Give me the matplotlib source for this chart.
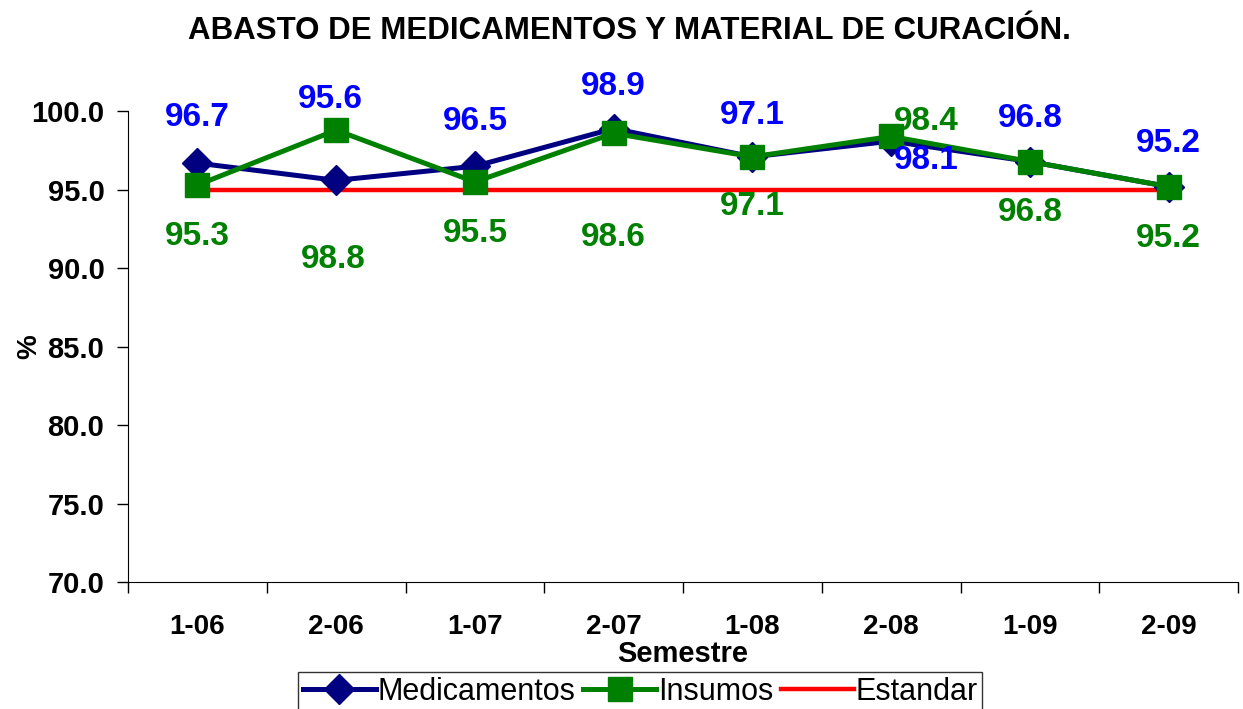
import matplotlib as mpl
mpl.use('Agg')
import matplotlib.pyplot as plt
from matplotlib.ticker import MultipleLocator, FixedLocator, FormatStrFormatter

plt.rcParams['font.family'] = ['Liberation Sans', 'DejaVu Sans']

semestres = ['1-06', '2-06', '1-07', '2-07', '1-08', '2-08', '1-09', '2-09']
medicamentos = [96.7, 95.6, 96.5, 98.9, 97.1, 98.1, 96.8, 95.2]
insumos = [95.3, 98.8, 95.5, 98.6, 97.1, 98.4, 96.8, 95.2]
estandar = [95.0, 95.0, 95.0, 95.0, 95.0, 95.0, 95.0, 95.0]
# etiquetas de los insumos como aparecen en la grafica original
etiq_insumos = [95.3, 98.8, 95.5, 98.6, 97.1, 98.4, 96.8, 95.2]

# desplazamiento de las etiquetas (en puntos): horizontal y vertical
dx_med = [0, -4, 0, 0, 0, 25, 0, 0]
dy_med = [33, 58, 32, 30, 30, -14, 31, 31]
dx_ins = [0, -2, 0, 0, 0, 25, 0, 0]
dy_ins = [-37, -93, -37, -75, -36, 11, -37, -37]

x = list(range(len(semestres)))

fig = plt.figure(figsize=(12.43, 7.09), dpi=100)
ax = fig.add_axes([0.103, 0.179, 0.893, 0.664])

ax.plot(x, estandar, color='#ff0000', linewidth=3.2, label='Estandar', zorder=2)
ax.plot(x, medicamentos, color='#000080', linewidth=3.6, marker='D',
        markersize=15, label='Medicamentos', zorder=3, clip_on=False)
ax.plot(x, insumos, color='#008000', linewidth=3.6, marker='s',
        markersize=17, label='Insumos', zorder=4, clip_on=False)

for i in x:
    ax.annotate('%.1f' % medicamentos[i], (i, medicamentos[i]),
                xytext=(dx_med[i], dy_med[i]), textcoords='offset points',
                ha='center', va='center', color='#0000ff',
                fontsize=24, fontweight='bold', annotation_clip=False, zorder=5)
    ax.annotate('%.1f' % etiq_insumos[i], (i, insumos[i]),
                xytext=(dx_ins[i], dy_ins[i]), textcoords='offset points',
                ha='center', va='center', color='#008000',
                fontsize=24, fontweight='bold', annotation_clip=False, zorder=5)

ax.set_xlim(-0.5, len(semestres) - 0.5)
ax.set_ylim(70, 100)
ax.yaxis.set_major_locator(MultipleLocator(5))
ax.yaxis.set_major_formatter(FormatStrFormatter('%.1f'))

ax.set_xticks(x)
ax.set_xticklabels(semestres)
ax.xaxis.set_minor_locator(FixedLocator([i - 0.5 for i in range(len(semestres) + 1)]))
ax.tick_params(axis='x', which='major', length=0, pad=23, labelsize=20)
ax.tick_params(axis='x', which='minor', length=8, width=1, direction='out')
ax.tick_params(axis='y', length=8, width=1, direction='out', labelsize=21, pad=9)
for lab in ax.get_xticklabels() + ax.get_yticklabels():
    lab.set_fontweight('bold')

ax.spines['top'].set_visible(False)
ax.spines['right'].set_visible(False)

ax.set_xlabel('Semestre', fontsize=21, fontweight='bold', labelpad=0)
ax.set_ylabel('%', fontsize=20, fontweight='bold', labelpad=-8)

fig.suptitle('ABASTO DE MEDICAMENTOS Y MATERIAL DE CURACIÓN.', x=0.506, y=0.977,
             fontsize=22.5, fontweight='bold')

h, l = ax.get_legend_handles_labels()
orden = [1, 2, 0]
leg = fig.legend([h[k] for k in orden], [l[k] for k in orden], loc='upper center',
                 bbox_to_anchor=(0.515, 0.052), ncol=3, frameon=True, fontsize=22,
                 fancybox=False, edgecolor='black', borderpad=0.15, handlelength=2.4,
                 handletextpad=0.05, columnspacing=0.25, borderaxespad=0)
leg.get_frame().set_linewidth(1)

fig.savefig('out.png', dpi=100)
